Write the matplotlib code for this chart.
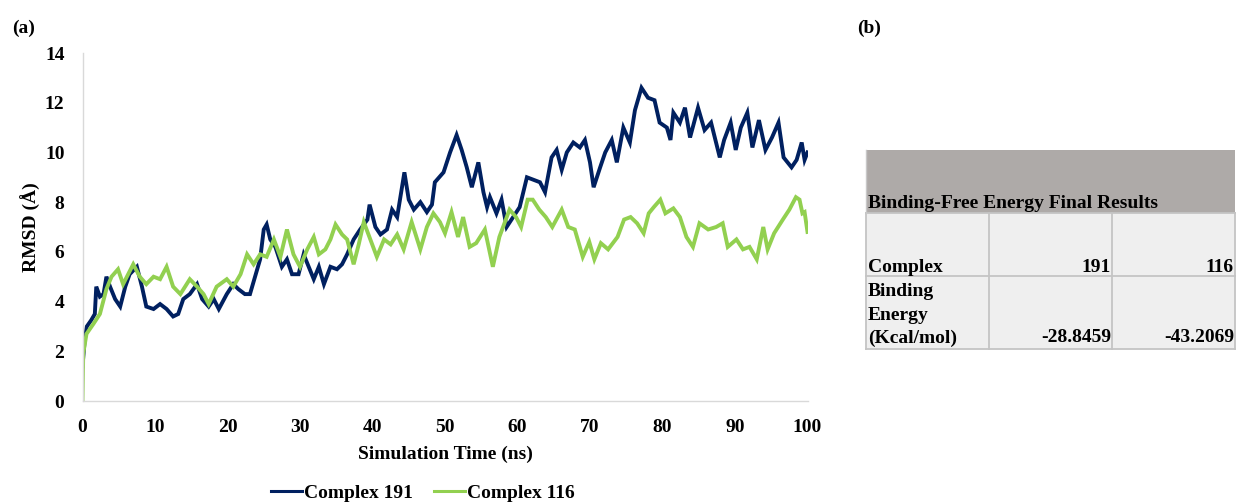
import matplotlib
matplotlib.use("Agg")
import matplotlib.pyplot as plt
from matplotlib.patches import Rectangle
from matplotlib.lines import Line2D

plt.rcParams['font.family'] = ['Liberation Serif', 'DejaVu Serif']
plt.rcParams['font.weight'] = 'bold'

# RMSD trajectory, Complex 191 (time in ns, RMSD in Angstrom)
time_191 = [0.0, 0.3, 0.6, 1.2, 1.7, 1.9, 2.4, 2.9, 3.3, 3.8, 4.5, 5.2, 5.9, 6.5, 7.5,
            8.2, 8.8, 9.8, 10.7, 11.6, 12.5, 13.2, 13.9, 14.8, 15.8, 16.5, 17.4, 18.1,
            18.8, 19.9, 20.8, 21.5, 22.4, 23.1, 23.8, 24.5, 25.0, 25.4, 25.9, 26.6,
            27.5, 28.2, 28.9, 29.8, 30.5, 31.2, 31.9, 32.6, 33.3, 34.2, 35.1, 35.8,
            36.5, 37.4, 38.3, 39.3, 39.6, 40.4, 41.1, 42.0, 42.7, 43.4, 44.4, 45.0,
            45.7, 46.6, 47.5, 48.2, 48.6, 49.8, 50.7, 51.6, 52.3, 53.0, 53.7, 54.6,
            55.3, 55.8, 56.2, 57.1, 57.8, 58.5, 59.4, 60.3, 61.3, 62.2, 63.1, 63.8,
            64.7, 65.4, 66.1, 66.8, 67.7, 68.6, 69.3, 70.0, 70.5, 71.4, 72.1, 73.0,
            73.7, 74.6, 75.5, 76.2, 77.1, 78.0, 78.9, 79.6, 80.6, 81.1, 81.5, 82.4,
            83.1, 83.8, 84.9, 85.8, 86.7, 87.9, 88.5, 89.4, 90.1, 90.8, 91.7, 92.4,
            93.3, 94.2, 95.1, 96.0, 96.7, 97.8, 98.5, 99.2, 99.6, 100.0]
rmsd_191 = [1.4, 2.45, 3.0, 3.25, 3.5, 4.6, 4.2, 4.3, 5.0, 4.6, 4.1, 3.8, 4.6, 5.1, 5.4,
            4.6, 3.8, 3.7, 3.9, 3.7, 3.4, 3.5, 4.1, 4.3, 4.7, 4.1, 3.8, 4.1,
            3.7, 4.3, 4.7, 4.5, 4.3, 4.3, 5.0, 5.7, 6.9, 7.1, 6.5, 6.2,
            5.4, 5.7, 5.1, 5.1, 5.9, 5.4, 4.9, 5.4, 4.7, 5.4, 5.3, 5.5,
            5.9, 6.5, 6.9, 7.3, 7.9, 7.0, 6.7, 6.9, 7.7, 7.4, 9.2, 8.1,
            7.7, 8.0, 7.6, 7.9, 8.8, 9.2, 10.0, 10.7, 10.1, 9.4, 8.6, 9.6,
            8.4, 7.8, 8.2, 7.55, 8.1, 7.0, 7.4, 7.8, 9.0, 8.9, 8.8, 8.4,
            9.8, 10.1, 9.3, 10.0, 10.4, 10.2, 10.5, 9.6, 8.6, 9.4, 10.0, 10.5,
            9.6, 11.0, 10.4, 11.7, 12.6, 12.2, 12.1, 11.2, 11.0, 10.5, 11.6, 11.2,
            11.8, 10.6, 11.8, 10.9, 11.2, 9.8, 10.5, 11.2, 10.1, 11.0, 11.6, 10.2,
            11.3, 10.1, 10.6, 11.2, 9.8, 9.4, 9.7, 10.4, 9.7, 10.0]

# RMSD trajectory, Complex 116
time_116 = [0.0, 0.1, 0.55, 1.5, 2.4, 3.3, 4.0, 4.9, 5.6, 7.0, 7.9, 8.8, 9.8, 10.7, 11.6,
            12.5, 13.5, 14.8, 15.8, 16.7, 17.4, 18.5, 19.9, 20.8, 21.8, 22.7, 23.6,
            24.5, 25.4, 26.4, 27.3, 28.2, 29.1, 30.0, 31.0, 31.9, 32.6, 33.5, 34.2,
            34.9, 35.8, 36.5, 37.4, 38.1, 38.8, 39.7, 40.6, 41.6, 42.5, 43.4, 44.3,
            45.4, 46.6, 47.5, 48.4, 49.3, 50.0, 50.9, 51.8, 52.5, 53.4, 54.3, 55.5,
            56.6, 57.5, 58.9, 59.8, 60.5, 61.4, 62.1, 63.0, 63.9, 64.8, 66.1, 67.0,
            67.9, 69.0, 69.9, 70.6, 71.5, 72.5, 73.8, 74.7, 75.6, 76.5, 77.4, 78.1,
            78.8, 79.7, 80.4, 81.5, 82.4, 83.3, 84.2, 85.1, 86.3, 87.4, 88.3, 89.0,
            90.2, 91.1, 92.0, 93.0, 93.9, 94.5, 95.4, 96.6, 97.5, 98.4, 98.9, 99.3,
            99.6, 100.0]
rmsd_116 = [0.0, 1.9, 2.7, 3.1, 3.5, 4.5, 5.0, 5.3, 4.7, 5.5, 5.0, 4.7, 5.0, 4.9, 5.4,
            4.6, 4.3, 4.9, 4.6, 4.3, 3.9, 4.6, 4.9, 4.6, 5.1, 5.9, 5.5,
            5.9, 5.8, 6.5, 5.8, 6.9, 5.9, 5.4, 6.1, 6.6, 5.9, 6.1, 6.5,
            7.1, 6.7, 6.5, 5.5, 6.3, 7.2, 6.5, 5.8, 6.5, 6.3, 6.7, 6.1,
            7.2, 6.1, 7.0, 7.55, 7.2, 6.75, 7.6, 6.6, 7.4, 6.2, 6.35, 6.9,
            5.4, 6.6, 7.7, 7.4, 7.0, 8.1, 8.1, 7.7, 7.4, 7.0, 7.7, 7.0,
            6.9, 5.8, 6.4, 5.7, 6.35, 6.1, 6.6, 7.3, 7.4, 7.15, 6.75, 7.55,
            7.8, 8.1, 7.55, 7.75, 7.4, 6.6, 6.2, 7.15, 6.9, 7.0, 7.15, 6.2,
            6.5, 6.1, 6.2, 5.7, 7.0, 6.1, 6.75, 7.3, 7.7, 8.2, 8.1, 7.55,
            7.6, 6.8]

series_labels = ["Complex 191", "Complex 116"]
series_colors = ["#002060", "#92D050"]

x_ticks = [0, 10, 20, 30, 40, 50, 60, 70, 80, 90, 100]
y_ticks = [0, 2, 4, 6, 8, 10, 12, 14]

# Binding free energy table
table_title = "Binding-Free Energy Final Results"
table_row_labels = ["Complex", "Binding\nEnergy\n(Kcal/mol)"]
table_complexes = ["191", "116"]
table_energies = ["-28.8459", "-43.2069"]

FS = 14
W, H = 1238, 504
fig = plt.figure(figsize=(W / 100, H / 100), dpi=100)
fig.patch.set_facecolor("white")

ax = fig.add_axes([82.5 / W, 1 - 401 / H, 725 / W, 348 / H])
ax.plot(time_191, rmsd_191, color=series_colors[0], lw=2.8, label=series_labels[0],
        solid_joinstyle="miter")
ax.plot(time_116, rmsd_116, color=series_colors[1], lw=2.8, label=series_labels[1],
        solid_joinstyle="miter")
ax.set_xlim(0, 100)
ax.set_ylim(0, 14)
ax.set_xticks(x_ticks)
ax.set_yticks(y_ticks)
ax.tick_params(length=0, labelsize=FS)
ax.tick_params(axis="y", pad=13)
ax.tick_params(axis="x", pad=13)
for lab in ax.get_xticklabels() + ax.get_yticklabels():
    lab.set_fontweight("bold")
for s in ["top", "right"]:
    ax.spines[s].set_visible(False)
for s in ["left", "bottom"]:
    ax.spines[s].set_color("#D9D9D9")
    ax.spines[s].set_linewidth(1.0)
ax.set_xlabel("Simulation Time (ns)", fontsize=FS, fontweight="bold", labelpad=7)
ax.set_ylabel("RMSD (Å)", fontsize=FS, fontweight="bold", labelpad=3)

handles = [Line2D([], [], color=c, lw=2.2) for c in series_colors]
fig.legend(handles, series_labels, loc="center", bbox_to_anchor=(423 / W, 1 - 493 / H),
           ncol=2, frameon=False, prop={"size": FS, "weight": "bold"},
           handlelength=1.6, handletextpad=0.1, columnspacing=1.1)

# Overlay in pixel coordinates for panel letters and the table
ov = fig.add_axes([0, 0, 1, 1], facecolor="none")
ov.set_xlim(0, W)
ov.set_ylim(H, 0)
ov.axis("off")

ov.text(12, 28, "(a)", fontsize=FS, fontweight="bold", va="center", ha="left")
ov.text(857, 28, "(b)", fontsize=FS, fontweight="bold", va="center", ha="left")

x0, x1, x2, x3 = 866, 989, 1112, 1235
yt, yh, yr, yb = 150, 212.5, 275.5, 348.5
edge = "#C4C4C4"
ov.add_patch(Rectangle((x0, yt), x3 - x0, yh - yt, facecolor="#AEAAA8", edgecolor="none"))
ov.add_patch(Rectangle((x0, yh), x3 - x0, yb - yh, facecolor="#EFEFEF", edgecolor="none"))
for xx in (x0, x1, x2, x3):
    ov.plot([xx, xx], [yh, yb], color=edge, lw=1.3)
for yy in (yh, yr, yb):
    ov.plot([x0, x3], [yy, yy], color=edge, lw=1.3)
ov.plot([x0, x0], [yt, yh], color="#C8C8C8", lw=1.0)

ov.text(x0 + 2, 208, table_title, fontsize=FS, fontweight="bold", ha="left", va="baseline")
ov.text(x0 + 2, 271.5, table_row_labels[0], fontsize=FS, fontweight="bold",
        ha="left", va="baseline")
ov.text(x2 - 1, 271.5, table_complexes[0], fontsize=FS, fontweight="bold",
        ha="right", va="baseline")
ov.text(x3 - 1, 271.5, table_complexes[1], fontsize=FS, fontweight="bold",
        ha="right", va="baseline")
for i, line in enumerate(table_row_labels[1].split("\n")):
    ov.text(x0 + 2, 296.5 + 23 * i, line, fontsize=FS, fontweight="bold",
            ha="left", va="baseline")
ov.text(x2 - 1, 342.5, table_energies[0], fontsize=FS, fontweight="bold",
        ha="right", va="baseline")
ov.text(x3 - 1, 342.5, table_energies[1], fontsize=FS, fontweight="bold",
        ha="right", va="baseline")

fig.savefig("out.png", dpi=100, facecolor="white")
